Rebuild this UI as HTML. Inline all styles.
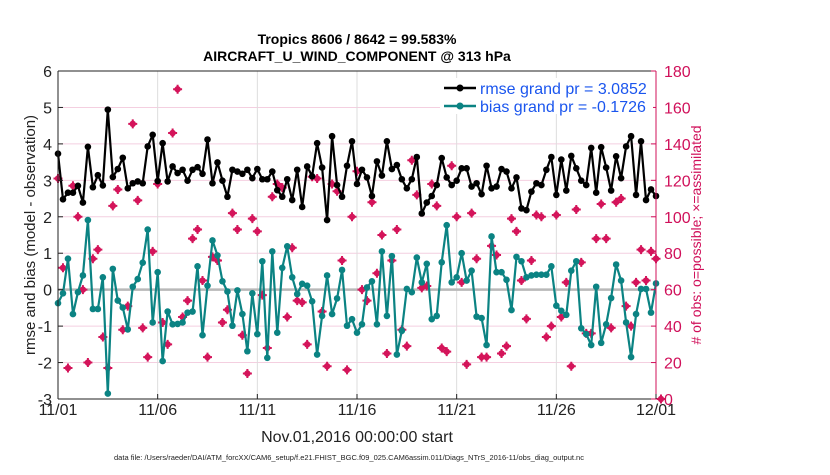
<!DOCTYPE html>
<html><head><meta charset="utf-8"><style>
body{margin:0;background:#fff;width:830px;height:470px;overflow:hidden;font-family:"Liberation Sans",sans-serif;}
svg text{font-family:"Liberation Sans",sans-serif;}
</style></head><body>
<svg id="chart" width="830" height="470" viewBox="0 0 830 470" xmlns="http://www.w3.org/2000/svg">
<g id="grid"></g>
<g id="series"></g>
<g id="axes"></g>
<text x="357" y="44" text-anchor="middle" font-size="14" font-weight="bold">Tropics 8606 / 8642 = 99.583%</text>
<text x="357" y="61" text-anchor="middle" font-size="14" font-weight="bold">AIRCRAFT_U_WIND_COMPONENT @ 313 hPa</text>
<text x="357" y="442" text-anchor="middle" font-size="16" fill="#222">Nov.01,2016 00:00:00 start</text>
<text transform="translate(35,235) rotate(-90)" text-anchor="middle" font-size="15" fill="#222">rmse and bias (model - observation)</text>
<text transform="translate(701,235) rotate(-90)" text-anchor="middle" font-size="14" fill="#d0105a"># of obs: o=possible; ×=assimilated</text>
<text x="349" y="460" text-anchor="middle" font-size="7.5" fill="#222">data file: /Users/raeder/DAI/ATM_forcXX/CAM6_setup/f.e21.FHIST_BGC.f09_025.CAM6assim.011/Diags_NTrS_2016-11/obs_diag_output.nc</text>
<g id="legend">
<rect x="440" y="78" width="213" height="36" fill="#fff"/>
<g>
<line x1="444" y1="88" x2="476" y2="88" stroke="#000" stroke-width="2.5"/><circle cx="460" cy="88" r="3.5" fill="#000"/>
<text x="480" y="94" font-size="16" fill="#1a55ee">rmse grand pr = 3.0852</text></g>
<g>
<line x1="444" y1="106" x2="476" y2="106" stroke="#0b8383" stroke-width="2.5"/><circle cx="460" cy="106" r="3.5" fill="#0b8383"/>
<text x="480" y="112" font-size="16" fill="#1a55ee">bias grand pr = -0.1726</text></g>
</g>
</svg>
<script>
const rmse=[3.73,2.48,2.66,2.66,2.85,2.39,3.92,2.81,3.14,2.86,4.94,3.09,3.31,3.62,2.78,2.92,2.97,2.92,3.93,4.25,2.98,4.02,2.97,3.38,3.2,
3.29,2.99,3.29,3.36,3.18,4.12,2.92,3.49,2.99,2.55,3.29,3.24,3.18,3.29,3.06,3.31,3.03,3.03,3.24,2.73,2.55,3.03,2.46,3.29,
2.27,3.38,3.11,4.02,3.35,1.91,4.21,2.87,2.55,3.4,4.07,2.9,3.29,3.08,2.57,3.52,3.13,4.07,3.31,3.42,3.03,2.78,3.03,
3.64,2.09,2.39,2.57,2.87,3.61,3.08,2.87,2.99,3.33,3.33,2.83,2.92,2.62,3.4,2.78,2.83,3.31,3.24,2.78,3.08,2.23,2.18,2.69,2.92,
2.87,3.29,3.64,2.6,3.57,2.72,3.67,3.33,2.99,2.87,3.89,2.66,3.91,3.35,2.72,3.66,3.06,3.93,4.21,2.6,4.07,2.46,2.75,2.57];
const bias=[-0.37,-0.1,0.85,-0.67,-0.07,0.39,1.91,-0.53,-0.53,0.34,-2.85,0.57,-0.3,-0.49,-1.09,0.08,0.29,0.74,1.65,-0.9,0.48,-1.96,-0.6,-0.95,-0.94,
-0.9,-0.63,-0.6,0.64,-1.25,0.11,1.35,0.94,0.23,-0.05,-0.99,-0.02,-0.67,-1.69,-0.1,-1.22,0.78,-1.87,1.05,-1.18,0.6,1.19,0.34,-0.12,
0.16,0.11,-0.32,-1.78,-0.72,0.39,-0.67,-0.24,0.54,-0.99,-0.81,-1.18,-0.95,0.06,0.23,-0.95,1.05,-0.72,0.92,-1.78,-1.13,0.02,-0.07,
0.88,0.2,0.71,-0.81,-0.72,0.75,1.77,0.2,0.34,1.0,0.25,0.52,-0.74,-0.78,-1.52,1.46,0.48,0.48,0.27,-0.56,0.9,0.78,0.34,0.39,0.41,
0.41,0.41,0.64,-0.44,-0.58,-0.69,0.52,0.78,-1.06,-1.22,-1.52,0.08,-1.46,-0.95,-0.23,0.69,0.25,-0.9,-1.85,-0.67,0.02,0.02,-0.63,0.17];
const obsCount=[121,72,17,117,100,60,20,77,82,34,17,106,115,38,51,151,109,39,23,81,118,42,30,146,170,
45,54,88,93,65,23,78,76,42,49,102,93,35,14,99,92,57,28,111,118,116,45,83,54,
53,30,122,121,48,18,118,114,76,16,100,125,60,54,108,69,90,25,76,93,38,29,131,
112,61,62,118,106,28,26,128,100,64,19,102,77,23,23,84,79,25,29,99,92,65,44,76,101,
100,34,40,101,45,64,18,104,75,36,36,88,107,88,39,108,110,51,40,64,82,65,81,77,0];
const xTickLabels=["11/01","11/06","11/11","11/16","11/21","11/26","12/01"];
const xTickDays=[0,5,10,15,20,25,30];
const yTicksLeft=[-3,-2,-1,0,1,2,3,4,5,6];
const yTicksRight=[0,20,40,60,80,100,120,140,160,180];
const stepDays=0.25;

const L=58,R=656,T=71,B=399;
const NS="http://www.w3.org/2000/svg";
function X(d){return L+(d/30)*(R-L);}
function Y(v){return B-(v+3)/9*(B-T);}
function Yr(n){return B-n/180*(B-T);}
function mk(tag,attrs,parent){const e=document.createElementNS(NS,tag);for(const k in attrs)e.setAttribute(k,attrs[k]);parent.appendChild(e);return e;}
const grid=document.getElementById('grid'),axes=document.getElementById('axes'),ser=document.getElementById('series');

yTicksLeft.forEach(v=>{const l=mk('line',{x1:L,x2:R,y1:Y(v),y2:Y(v),stroke:'#f4cfe0','stroke-width':1},grid);

});
xTickDays.forEach(d=>{const l=mk('line',{x1:X(d),x2:X(d),y1:T,y2:B,stroke:'#ddd','stroke-width':1},grid);

});
const z=mk('line',{x1:L,x2:R,y1:Y(0),y2:Y(0),stroke:'#b8b8b8','stroke-width':2.5},grid);



// obs markers
obsCount.forEach((n,i)=>{const x=X(i*stepDays),y=Yr(n);
const g=mk('g',{},ser);


mk('circle',{cx:x,cy:y,r:3.2,fill:'#d4145a'},g);
mk('path',{d:`M${x-4.5} ${y}H${x+4.5}M${x} ${y-4.5}V${y+4.5}`,stroke:'#d4145a','stroke-width':2},g);});

function line(arr,color,name){
 const pts=arr.map((v,i)=>X(i*stepDays).toFixed(1)+','+Y(v).toFixed(1)).join(' ');
 const p=mk('polyline',{points:pts,fill:'none',stroke:color,'stroke-width':2.2,'stroke-linejoin':'round'},ser);
 
 
 arr.forEach((v,i)=>{const c=mk('circle',{cx:X(i*stepDays),cy:Y(v),r:3.3,fill:color},ser);
 
 });
}
line(bias,'#0b8383','bias');
line(rmse,'#000','rmse');

// axes
mk('line',{x1:L,x2:R,y1:T,y2:T,stroke:'#222','stroke-width':1},axes);
mk('line',{x1:L,x2:R,y1:B,y2:B,stroke:'#222','stroke-width':1},axes);
mk('line',{x1:L,x2:L,y1:T,y2:B,stroke:'#222','stroke-width':1},axes);
mk('line',{x1:R,x2:R,y1:T,y2:B,stroke:'#d0105a','stroke-width':1},axes);
yTicksLeft.forEach(v=>{const t=mk('text',{x:L-6,y:Y(v)+6,'text-anchor':'end','font-size':16,fill:'#222'},axes);t.textContent=v;


mk('line',{x1:L,x2:L+5,y1:Y(v),y2:Y(v),stroke:'#222'},axes);});
yTicksRight.forEach(n=>{const t=mk('text',{x:R+8,y:Yr(n)+6,'font-size':16,fill:'#d0105a'},axes);t.textContent=n;


mk('line',{x1:R-5,x2:R,y1:Yr(n),y2:Yr(n),stroke:'#d0105a'},axes);});
xTickDays.forEach((d,i)=>{const t=mk('text',{x:X(d),y:B+16,'text-anchor':'middle','font-size':16,fill:'#222'},axes);t.textContent=xTickLabels[i];


mk('line',{x1:X(d),x2:X(d),y1:B-5,y2:B,stroke:'#222'},axes);});
</script>
</body></html>
